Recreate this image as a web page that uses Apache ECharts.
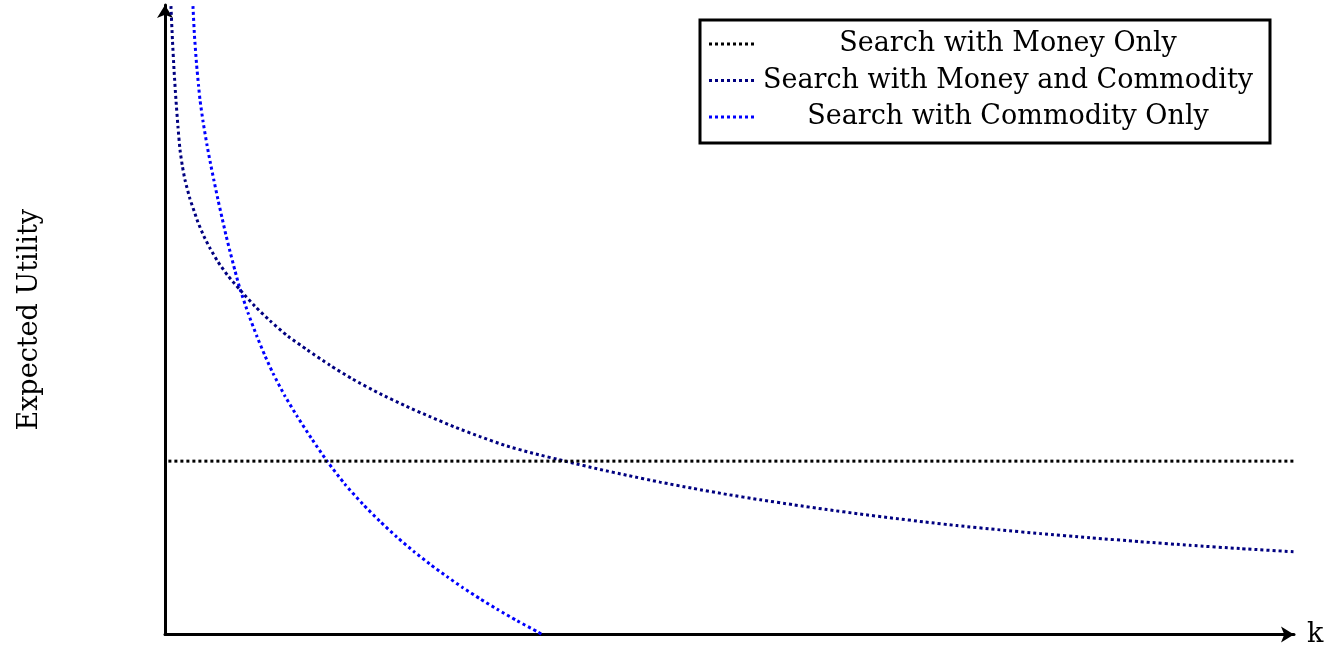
<!DOCTYPE html>
<html>
<head>
<meta charset="utf-8">
<script src="https://cdn.jsdelivr.net/npm/echarts@6/dist/echarts.min.js"></script>
<style>
  html, body { margin: 0; padding: 0; background: #fff; }
  #chart { width: 1339px; height: 648px; }
</style>
</head>
<body>
<div id="chart"></div>
<script>
// Series names and colours
const seriesNames = [
  'Search with Money Only',
  'Search with Money and Commodity',
  'Search with Commodity Only'
];
const seriesColors = ['#000000', '#000080', '#0000ff'];

// Money only: flat expected utility
const kMoney = [0.03, 10];
const uMoney = [2.754, 2.754];

// Money and commodity
const kBoth = [0.040, 0.053, 0.066, 0.080, 0.097, 0.115, 0.133, 0.155, 0.177, 0.221,
  0.257, 0.292, 0.345, 0.399, 0.469, 0.558, 0.664, 0.797, 0.930, 1.089,
  1.258, 1.461, 1.656, 1.904, 2.126, 2.347, 2.569, 2.790, 3.012, 3.233,
  3.561, 3.853, 4.092, 4.384, 4.677, 4.978, 5.270, 5.562, 5.864, 6.156,
  6.448, 6.732, 7.015, 7.396, 7.750, 8.193, 8.636, 9.079, 9.522, 10.0];
const uBoth = [10.556, 9.968, 9.444, 8.968, 8.492, 8.063, 7.698, 7.429, 7.222, 6.921,
  6.730, 6.548, 6.325, 6.135, 5.921, 5.698, 5.476, 5.214, 4.984, 4.738,
  4.524, 4.278, 4.063, 3.825, 3.635, 3.460, 3.294, 3.143, 3.003, 2.892,
  2.746, 2.622, 2.529, 2.421, 2.321, 2.225, 2.141, 2.062, 1.984, 1.914,
  1.848, 1.787, 1.730, 1.662, 1.603, 1.537, 1.475, 1.417, 1.365, 1.314];

// Commodity only
const kComm = [0.233, 0.248, 0.261, 0.279, 0.297, 0.310, 0.337, 0.372, 0.403, 0.434,
  0.469, 0.505, 0.540, 0.576, 0.620, 0.664, 0.735, 0.815, 0.886, 0.957,
  1.063, 1.169, 1.302, 1.435, 1.594, 1.754, 1.904, 2.054, 2.205, 2.347,
  2.498, 2.639, 2.790, 2.941, 3.118, 3.304, 3.335];
const uComm = [10.556, 9.968, 9.516, 9.071, 8.722, 8.492, 8.149, 7.775, 7.481, 7.208,
  6.910, 6.621, 6.344, 6.084, 5.778, 5.492, 5.111, 4.732, 4.427, 4.148,
  3.786, 3.471, 3.102, 2.756, 2.387, 2.068, 1.797, 1.548, 1.317, 1.117,
  0.919, 0.743, 0.568, 0.403, 0.219, 0.038, 0.0];

const xName = 'k';
const yName = 'Expected Utility';

const zip = (xs, ys) => xs.map((x, i) => [x, ys[i]]);
const curves = [zip(kMoney, uMoney), zip(kBoth, uBoth), zip(kComm, uComm)];

const serif = '"DejaVu Serif", "Liberation Serif", serif';
const dotted = { width: 3, type: [3, 3], cap: 'butt' };

const chart = echarts.init(document.getElementById('chart'), null, { renderer: 'canvas' });

// Legend box drawn as graphic elements built from the series list
const legendBox = { left: 700, top: 20, width: 570, height: 123 };
const rowY = [44, 80.5, 117];
const legendChildren = [{
  type: 'rect',
  shape: { x: legendBox.left, y: legendBox.top, width: legendBox.width, height: legendBox.height },
  style: { fill: '#fff', stroke: '#000', lineWidth: 3 }
}];
seriesNames.forEach((name, i) => {
  legendChildren.push({
    type: 'line',
    shape: { x1: 709, y1: rowY[i], x2: 754, y2: rowY[i] },
    style: { stroke: seriesColors[i], lineWidth: 3, lineDash: [3, 3] }
  });
  legendChildren.push({
    type: 'text',
    x: 1008, y: rowY[i],
    style: {
      text: name, fill: '#000', font: '27px ' + serif,
      align: 'center', verticalAlign: 'middle'
    }
  });
});

chart.setOption({
  animation: false,
  backgroundColor: '#fff',
  grid: { left: 165, right: 45, top: 5, bottom: 13 },
  xAxis: {
    type: 'value', min: 0, max: 10,
    name: xName, nameLocation: 'end', nameGap: 13,
    nameTextStyle: { fontFamily: serif, fontSize: 27, color: '#000', verticalAlign: 'middle' },
    axisLine: { show: true, onZero: false, symbol: ['none', 'arrow'], symbolSize: [12, 13],
      lineStyle: { color: '#000', width: 3 } },
    axisTick: { show: false }, axisLabel: { show: false }, splitLine: { show: false }
  },
  yAxis: {
    type: 'value', min: 0, max: 10,
    name: yName, nameLocation: 'middle', nameGap: 122,
    nameTextStyle: { fontFamily: serif, fontSize: 27, color: '#000' },
    axisLine: { show: true, onZero: false, symbol: ['none', 'arrow'], symbolSize: [12, 13],
      lineStyle: { color: '#000', width: 3 } },
    axisTick: { show: false }, axisLabel: { show: false }, splitLine: { show: false }
  },
  series: seriesNames.map((name, i) => ({
    name, type: 'line', data: curves[i],
    showSymbol: false, symbol: 'none',
    smooth: i === 0 ? false : 0.2,
    clip: true,
    lineStyle: Object.assign({ color: seriesColors[i] }, dotted),
    itemStyle: { color: seriesColors[i] },
    z: 3 - i
  })),
  graphic: [{ type: 'group', children: legendChildren, z: 100 }]
});
</script>
</body>
</html>
